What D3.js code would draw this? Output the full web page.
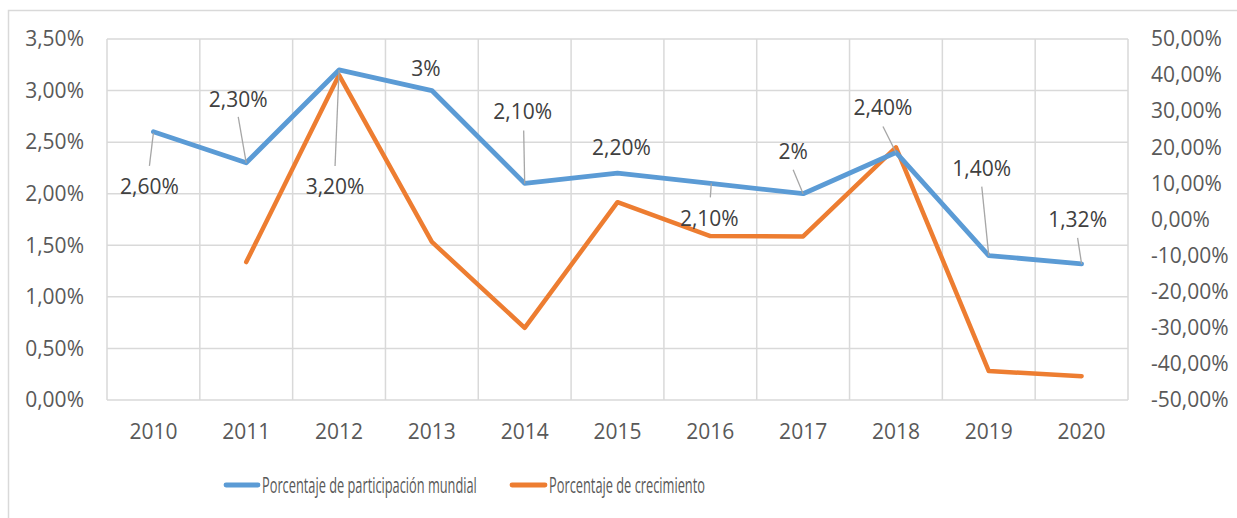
<!DOCTYPE html>
<html>
<head>
<meta charset="utf-8">
<script src="https://cdn.jsdelivr.net/npm/d3@7"></script>
<style>
  html, body { margin: 0; padding: 0; background: #fff; }
  svg { display: block; }
  text { font-family: "Open Sans", "Noto Sans", sans-serif; fill: #595959; }
</style>
</head>
<body>
<svg id="chart" width="1237" height="518"></svg>
<script>
const years = ["2010","2011","2012","2013","2014","2015","2016","2017","2018","2019","2020"];
const participacion = [2.60, 2.30, 3.20, 3.00, 2.10, 2.20, 2.10, 2.00, 2.40, 1.40, 1.32];
const crecimiento = [null, -11.8, 40.0, -6.2, -30.0, 4.8, -4.6, -4.7, 20.0, -42.0, -43.4];
const participacionLabels = ["2,60%","2,30%","3,20%","3%","2,10%","2,20%","2,10%","2%","2,40%","1,40%","1,32%"];
const leftTicks = [0, 0.5, 1, 1.5, 2, 2.5, 3, 3.5];
const rightTicks = [-50, -40, -30, -20, -10, 0, 10, 20, 30, 40, 50];
const seriesNames = ["Porcentaje de participación mundial", "Porcentaje de crecimiento"];

(function () {
// label placement relative to the point
const labelPos = [
  {dx: -4, dy: 62, leader: [[0,1],[-4,34]]},
  {dx: -8, dy: -56, leader: [[-8,-46],[0,0]]},
  {dx: -4, dy: 124, leader: [[0,0],[-4,96]]},
  {dx: -6, dy: -15, leader: null},
  {dx: -2, dy: -64, leader: [[-1,-53],[0,0]]},
  {dx: 4, dy: -18, leader: null},
  {dx: -1, dy: 43, leader: [[1,0],[0,14]]},
  {dx: -10, dy: -35, leader: [[-10,-24],[0,0]]},
  {dx: -13, dy: -37, leader: [[-13,-26],[0,0]]},
  {dx: -7, dy: -80, leader: [[-7,-69],[0,0]]},
  {dx: -4, dy: -37, leader: [[-4,-26],[0,0]]}
];

const svg = d3.select("#chart");
const pLeft = 107, pRight = 1128, pTop = 39, pBottom = 400;
const blue = "#5B9BD5", orange = "#ED7D31", grid = "#D9D9D9";
const FS = 21;

// outer border
svg.append("path")
  .attr("d", `M8.5,518 V10.5 H1237`)
  .attr("fill", "none").attr("stroke", grid).attr("stroke-width", 1.5);

const x = d3.scaleBand().domain(years).range([pLeft, pRight]).paddingInner(0).paddingOuter(0);
const yL = d3.scaleLinear().domain([0, 3.5]).range([pBottom, pTop]);
const yR = d3.scaleLinear().domain([-50, 50]).range([pBottom, pTop]);

// gridlines
const g = svg.append("g");
g.selectAll("line.h").data(leftTicks).join("line")
  .attr("x1", pLeft).attr("x2", pRight)
  .attr("y1", d => yL(d)).attr("y2", d => yL(d))
  .attr("stroke", grid).attr("stroke-width", 1.5);
const bounds = years.map(d => x(d)).concat([x(years[years.length-1]) + x.bandwidth()]);
g.selectAll("line.v").data(bounds).join("line")
  .attr("x1", d => d).attr("x2", d => d)
  .attr("y1", pTop).attr("y2", pBottom)
  .attr("stroke", grid).attr("stroke-width", 1.5);

const fmt = d => d.toFixed(2).replace(".", ",") + "%";
const axL = svg.append("g").attr("transform", `translate(${pLeft},0)`)
  .call(d3.axisLeft(yL).tickValues(leftTicks).tickFormat(fmt).tickSize(0).tickPadding(23));
axL.select(".domain").remove();
const axR = svg.append("g").attr("transform", `translate(${pRight},0)`)
  .call(d3.axisRight(yR).tickValues(rightTicks).tickFormat(fmt).tickSize(0).tickPadding(23));
axR.select(".domain").remove();
const axB = svg.append("g").attr("transform", `translate(0,${pBottom})`)
  .call(d3.axisBottom(x).tickSize(0).tickPadding(24));
axB.select(".domain").remove();
[axL, axR, axB].forEach(a => a.selectAll("text")
  .attr("font-size", FS).attr("fill", "#595959")
  .style("font-family", "'Open Sans', sans-serif"));

const cx = d => x(d) + x.bandwidth() / 2;

// orange line
const lineR = d3.line()
  .defined(d => d.v !== null)
  .x(d => cx(d.year)).y(d => yR(d.v));
svg.append("path")
  .datum(years.map((y, i) => ({year: y, v: crecimiento[i]})))
  .attr("d", lineR).attr("fill", "none").attr("stroke", orange)
  .attr("stroke-width", 4.5).attr("stroke-linejoin", "round").attr("stroke-linecap", "round");

// blue line
const lineL = d3.line().x(d => cx(d.year)).y(d => yL(d.v));
svg.append("path")
  .datum(years.map((y, i) => ({year: y, v: participacion[i]})))
  .attr("d", lineL).attr("fill", "none").attr("stroke", blue)
  .attr("stroke-width", 4.8).attr("stroke-linejoin", "round").attr("stroke-linecap", "round");

// data labels
years.forEach((yr, i) => {
  const px = cx(yr), py = yL(participacion[i]);
  const p = labelPos[i];
  if (p.leader) {
    svg.append("line")
      .attr("x1", px + p.leader[0][0]).attr("y1", py + p.leader[0][1])
      .attr("x2", px + p.leader[1][0]).attr("y2", py + p.leader[1][1])
      .attr("stroke", "#A6A6A6").attr("stroke-width", 1.3);
  }
  svg.append("text")
    .attr("x", px + p.dx).attr("y", py + p.dy)
    .attr("text-anchor", "middle").attr("font-size", FS).style("fill", "#404040")
    .text(participacionLabels[i]);
});

// legend (condensed text, like the reference)
const legend = [
  {name: seriesNames[0], color: blue, x1: 226, x2: 258, tx: 262, tl: 215},
  {name: seriesNames[1], color: orange, x1: 512, x2: 545, tx: 549, tl: 156}
];
legend.forEach(l => {
  svg.append("line").attr("x1", l.x1).attr("x2", l.x2).attr("y1", 485).attr("y2", 485)
    .attr("stroke", l.color).attr("stroke-width", 4.8).attr("stroke-linecap", "round");
  const t = svg.append("text").attr("x", 0).attr("y", 0).attr("font-size", 22)
    .text(l.name);
  const w = t.node().getComputedTextLength();
  t.attr("transform", `translate(${l.tx},493) scale(${l.tl / w},1)`);
});
})();
</script>
</body>
</html>
